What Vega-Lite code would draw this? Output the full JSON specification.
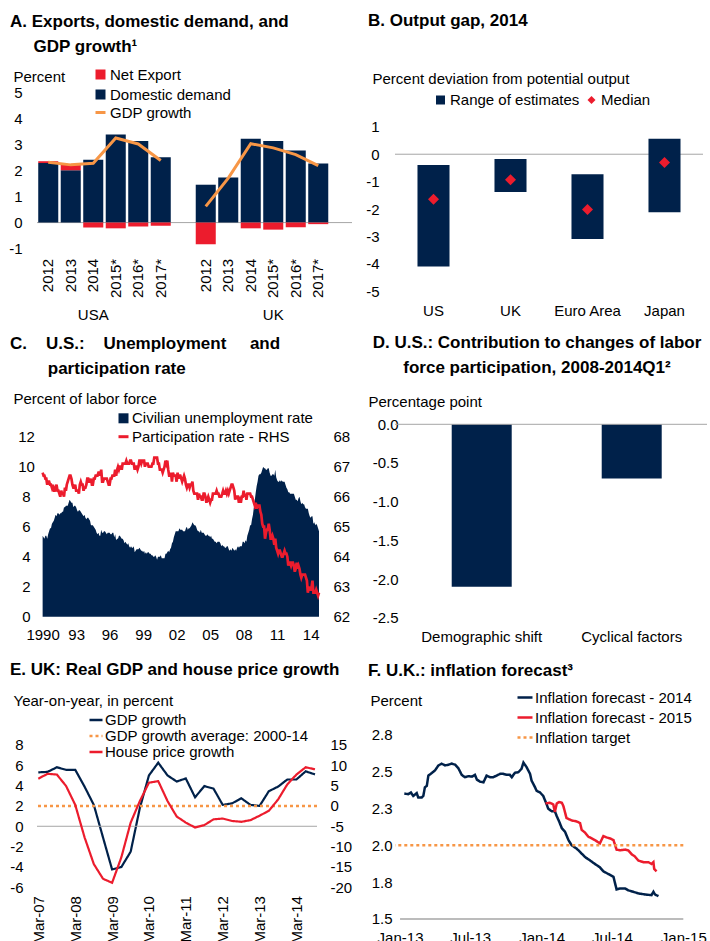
{
"$schema": "https://vega.github.io/schema/vega-lite/v6.json",
"background": "white",
"padding": {"left": 8, "top": 12, "right": 0, "bottom": 0},
"columns": 2,
"bounds": "flush",
"align": "each",
"spacing": {"row": 116.3, "column": 43},
"resolve": {"scale": {"x": "independent", "y": "independent", "color": "independent", "fill": "independent", "stroke": "independent", "strokeDash": "independent"}, "legend": {"color": "independent", "fill": "independent", "stroke": "independent", "strokeDash": "independent"}},
"datasets": {
"a": [
{"cat":"USA|2012","s":"Domestic demand","v":2.28},{"cat":"USA|2012","s":"Net Export","v":0.07},{"cat":"USA|2012","s":"GDP growth","v":2.31,"g":"USA"},
{"cat":"USA|2013","s":"Domestic demand","v":2.0},{"cat":"USA|2013","s":"Net Export","v":0.21},{"cat":"USA|2013","s":"GDP growth","v":2.21,"g":"USA"},
{"cat":"USA|2014","s":"Domestic demand","v":2.41},{"cat":"USA|2014","s":"Net Export","v":-0.19},{"cat":"USA|2014","s":"GDP growth","v":2.27,"g":"USA"},
{"cat":"USA|2015*","s":"Domestic demand","v":3.37},{"cat":"USA|2015*","s":"Net Export","v":-0.22},{"cat":"USA|2015*","s":"GDP growth","v":3.24,"g":"USA"},
{"cat":"USA|2016*","s":"Domestic demand","v":3.12},{"cat":"USA|2016*","s":"Net Export","v":-0.15},{"cat":"USA|2016*","s":"GDP growth","v":3.01,"g":"USA"},
{"cat":"USA|2017*","s":"Domestic demand","v":2.5},{"cat":"USA|2017*","s":"Net Export","v":-0.12},{"cat":"USA|2017*","s":"GDP growth","v":2.38,"g":"USA"},
{"cat":"UK|2012","s":"Domestic demand","v":1.45},{"cat":"UK|2012","s":"Net Export","v":-0.83},{"cat":"UK|2012","s":"GDP growth","v":0.62,"g":"UK"},
{"cat":"UK|2013","s":"Domestic demand","v":1.73},{"cat":"UK|2013","s":"Net Export","v":0},{"cat":"UK|2013","s":"GDP growth","v":1.7,"g":"UK"},
{"cat":"UK|2014","s":"Domestic demand","v":3.21},{"cat":"UK|2014","s":"Net Export","v":-0.22},{"cat":"UK|2014","s":"GDP growth","v":3.02,"g":"UK"},
{"cat":"UK|2015*","s":"Domestic demand","v":3.12},{"cat":"UK|2015*","s":"Net Export","v":-0.27},{"cat":"UK|2015*","s":"GDP growth","v":2.86,"g":"UK"},
{"cat":"UK|2016*","s":"Domestic demand","v":2.76},{"cat":"UK|2016*","s":"Net Export","v":-0.18},{"cat":"UK|2016*","s":"GDP growth","v":2.6,"g":"UK"},
{"cat":"UK|2017*","s":"Domestic demand","v":2.26},{"cat":"UK|2017*","s":"Net Export","v":-0.06},{"cat":"UK|2017*","s":"GDP growth","v":2.18,"g":"UK"}
],
"b": [
{"c":"US","lo":-4.1,"hi":-0.39,"med":-1.64},
{"c":"UK","lo":-1.38,"hi":-0.17,"med":-0.93},
{"c":"Euro Area","lo":-3.09,"hi":-0.73,"med":-2.02},
{"c":"Japan","lo":-2.12,"hi":0.56,"med":-0.3}
],
"c": [
{"d":"1990-01","u":5.4,"p":66.8},{"d":"1990-02","u":5.3,"p":66.7},{"d":"1990-03","u":5.2,"p":66.7},{"d":"1990-04","u":5.4,"p":66.6},{"d":"1990-05","u":5.4,"p":66.6},{"d":"1990-06","u":5.2,"p":66.4},{"d":"1990-07","u":5.5,"p":66.5},{"d":"1990-08","u":5.7,"p":66.5},{"d":"1990-09","u":5.9,"p":66.4},{"d":"1990-10","u":5.9,"p":66.4},{"d":"1990-11","u":6.2,"p":66.3},{"d":"1990-12","u":6.3,"p":66.4},
{"d":"1991-01","u":6.4,"p":66.2},{"d":"1991-02","u":6.6,"p":66.2},{"d":"1991-03","u":6.8,"p":66.3},{"d":"1991-04","u":6.7,"p":66.4},{"d":"1991-05","u":6.9,"p":66.2},{"d":"1991-06","u":6.9,"p":66.2},{"d":"1991-07","u":6.8,"p":66.1},{"d":"1991-08","u":6.9,"p":66.0},{"d":"1991-09","u":6.9,"p":66.2},{"d":"1991-10","u":7.0,"p":66.1},{"d":"1991-11","u":7.0,"p":66.1},{"d":"1991-12","u":7.3,"p":66.0},
{"d":"1992-01","u":7.3,"p":66.3},{"d":"1992-02","u":7.4,"p":66.2},{"d":"1992-03","u":7.4,"p":66.4},{"d":"1992-04","u":7.4,"p":66.5},{"d":"1992-05","u":7.6,"p":66.6},{"d":"1992-06","u":7.8,"p":66.7},{"d":"1992-07","u":7.7,"p":66.7},{"d":"1992-08","u":7.6,"p":66.6},{"d":"1992-09","u":7.6,"p":66.4},{"d":"1992-10","u":7.3,"p":66.3},{"d":"1992-11","u":7.4,"p":66.3},{"d":"1992-12","u":7.4,"p":66.4},
{"d":"1993-01","u":7.3,"p":66.2},{"d":"1993-02","u":7.1,"p":66.2},{"d":"1993-03","u":7.0,"p":66.2},{"d":"1993-04","u":7.1,"p":66.1},{"d":"1993-05","u":7.1,"p":66.4},{"d":"1993-06","u":7.0,"p":66.5},{"d":"1993-07","u":6.9,"p":66.4},{"d":"1993-08","u":6.8,"p":66.4},{"d":"1993-09","u":6.7,"p":66.2},{"d":"1993-10","u":6.8,"p":66.3},{"d":"1993-11","u":6.6,"p":66.3},{"d":"1993-12","u":6.5,"p":66.4},
{"d":"1994-01","u":6.6,"p":66.6},{"d":"1994-02","u":6.6,"p":66.6},{"d":"1994-03","u":6.5,"p":66.5},{"d":"1994-04","u":6.4,"p":66.5},{"d":"1994-05","u":6.1,"p":66.6},{"d":"1994-06","u":6.1,"p":66.4},{"d":"1994-07","u":6.1,"p":66.4},{"d":"1994-08","u":6.0,"p":66.6},{"d":"1994-09","u":5.9,"p":66.6},{"d":"1994-10","u":5.8,"p":66.7},{"d":"1994-11","u":5.6,"p":66.7},{"d":"1994-12","u":5.5,"p":66.7},
{"d":"1995-01","u":5.6,"p":66.8},{"d":"1995-02","u":5.4,"p":66.8},{"d":"1995-03","u":5.4,"p":66.7},{"d":"1995-04","u":5.8,"p":66.9},{"d":"1995-05","u":5.6,"p":66.5},{"d":"1995-06","u":5.6,"p":66.5},{"d":"1995-07","u":5.7,"p":66.6},{"d":"1995-08","u":5.7,"p":66.6},{"d":"1995-09","u":5.6,"p":66.6},{"d":"1995-10","u":5.5,"p":66.6},{"d":"1995-11","u":5.6,"p":66.5},{"d":"1995-12","u":5.6,"p":66.4},
{"d":"1996-01","u":5.6,"p":66.4},{"d":"1996-02","u":5.5,"p":66.6},{"d":"1996-03","u":5.5,"p":66.6},{"d":"1996-04","u":5.6,"p":66.7},{"d":"1996-05","u":5.6,"p":66.7},{"d":"1996-06","u":5.3,"p":66.7},{"d":"1996-07","u":5.5,"p":66.9},{"d":"1996-08","u":5.1,"p":66.7},{"d":"1996-09","u":5.2,"p":66.9},{"d":"1996-10","u":5.2,"p":67.0},{"d":"1996-11","u":5.4,"p":66.9},{"d":"1996-12","u":5.4,"p":67.0},
{"d":"1997-01","u":5.3,"p":67.0},{"d":"1997-02","u":5.2,"p":66.9},{"d":"1997-03","u":5.2,"p":67.1},{"d":"1997-04","u":5.1,"p":67.1},{"d":"1997-05","u":4.9,"p":67.1},{"d":"1997-06","u":5.0,"p":67.1},{"d":"1997-07","u":4.9,"p":67.2},{"d":"1997-08","u":4.8,"p":67.1},{"d":"1997-09","u":4.9,"p":67.1},{"d":"1997-10","u":4.7,"p":67.1},{"d":"1997-11","u":4.6,"p":67.2},{"d":"1997-12","u":4.7,"p":67.2},
{"d":"1998-01","u":4.6,"p":67.1},{"d":"1998-02","u":4.6,"p":67.1},{"d":"1998-03","u":4.7,"p":67.1},{"d":"1998-04","u":4.3,"p":66.9},{"d":"1998-05","u":4.4,"p":67.0},{"d":"1998-06","u":4.5,"p":67.0},{"d":"1998-07","u":4.5,"p":66.9},{"d":"1998-08","u":4.5,"p":67.0},{"d":"1998-09","u":4.6,"p":67.2},{"d":"1998-10","u":4.5,"p":67.2},{"d":"1998-11","u":4.4,"p":67.1},{"d":"1998-12","u":4.4,"p":67.2},
{"d":"1999-01","u":4.3,"p":67.2},{"d":"1999-02","u":4.4,"p":67.2},{"d":"1999-03","u":4.2,"p":67.0},{"d":"1999-04","u":4.3,"p":67.1},{"d":"1999-05","u":4.2,"p":67.1},{"d":"1999-06","u":4.3,"p":67.1},{"d":"1999-07","u":4.3,"p":67.0},{"d":"1999-08","u":4.2,"p":67.0},{"d":"1999-09","u":4.2,"p":67.0},{"d":"1999-10","u":4.1,"p":67.0},{"d":"1999-11","u":4.1,"p":67.1},{"d":"1999-12","u":4.0,"p":67.1},
{"d":"2000-01","u":4.0,"p":67.3},{"d":"2000-02","u":4.1,"p":67.3},{"d":"2000-03","u":4.0,"p":67.3},{"d":"2000-04","u":3.8,"p":67.3},{"d":"2000-05","u":4.0,"p":67.1},{"d":"2000-06","u":4.0,"p":67.1},{"d":"2000-07","u":4.0,"p":66.9},{"d":"2000-08","u":4.1,"p":66.9},{"d":"2000-09","u":3.9,"p":66.9},{"d":"2000-10","u":3.9,"p":66.8},{"d":"2000-11","u":3.9,"p":66.9},{"d":"2000-12","u":3.9,"p":67.0},
{"d":"2001-01","u":4.2,"p":67.2},{"d":"2001-02","u":4.2,"p":67.1},{"d":"2001-03","u":4.3,"p":67.2},{"d":"2001-04","u":4.4,"p":66.9},{"d":"2001-05","u":4.3,"p":66.7},{"d":"2001-06","u":4.5,"p":66.7},{"d":"2001-07","u":4.6,"p":66.8},{"d":"2001-08","u":4.9,"p":66.5},{"d":"2001-09","u":5.0,"p":66.8},{"d":"2001-10","u":5.3,"p":66.7},{"d":"2001-11","u":5.5,"p":66.7},{"d":"2001-12","u":5.7,"p":66.7},
{"d":"2002-01","u":5.7,"p":66.5},{"d":"2002-02","u":5.7,"p":66.8},{"d":"2002-03","u":5.7,"p":66.6},{"d":"2002-04","u":5.9,"p":66.7},{"d":"2002-05","u":5.8,"p":66.7},{"d":"2002-06","u":5.8,"p":66.6},{"d":"2002-07","u":5.8,"p":66.5},{"d":"2002-08","u":5.7,"p":66.6},{"d":"2002-09","u":5.7,"p":66.7},{"d":"2002-10","u":5.7,"p":66.6},{"d":"2002-11","u":5.9,"p":66.4},{"d":"2002-12","u":6.0,"p":66.3},
{"d":"2003-01","u":5.8,"p":66.4},{"d":"2003-02","u":5.9,"p":66.4},{"d":"2003-03","u":5.9,"p":66.3},{"d":"2003-04","u":6.0,"p":66.4},{"d":"2003-05","u":6.1,"p":66.4},{"d":"2003-06","u":6.3,"p":66.5},{"d":"2003-07","u":6.2,"p":66.2},{"d":"2003-08","u":6.1,"p":66.1},{"d":"2003-09","u":6.1,"p":66.1},{"d":"2003-10","u":6.0,"p":66.1},{"d":"2003-11","u":5.8,"p":66.1},{"d":"2003-12","u":5.7,"p":65.9},
{"d":"2004-01","u":5.7,"p":66.1},{"d":"2004-02","u":5.6,"p":66.0},{"d":"2004-03","u":5.8,"p":66.0},{"d":"2004-04","u":5.6,"p":65.9},{"d":"2004-05","u":5.6,"p":65.9},{"d":"2004-06","u":5.6,"p":66.1},{"d":"2004-07","u":5.5,"p":66.1},{"d":"2004-08","u":5.4,"p":66.0},{"d":"2004-09","u":5.4,"p":65.8},{"d":"2004-10","u":5.5,"p":65.9},{"d":"2004-11","u":5.4,"p":66.0},{"d":"2004-12","u":5.4,"p":65.9},
{"d":"2005-01","u":5.3,"p":65.8},{"d":"2005-02","u":5.4,"p":65.9},{"d":"2005-03","u":5.2,"p":65.9},{"d":"2005-04","u":5.2,"p":66.1},{"d":"2005-05","u":5.1,"p":66.1},{"d":"2005-06","u":5.0,"p":66.1},{"d":"2005-07","u":5.0,"p":66.1},{"d":"2005-08","u":4.9,"p":66.2},{"d":"2005-09","u":5.0,"p":66.1},{"d":"2005-10","u":5.0,"p":66.1},{"d":"2005-11","u":5.0,"p":66.0},{"d":"2005-12","u":4.9,"p":66.0},
{"d":"2006-01","u":4.7,"p":66.0},{"d":"2006-02","u":4.8,"p":66.1},{"d":"2006-03","u":4.7,"p":66.2},{"d":"2006-04","u":4.7,"p":66.1},{"d":"2006-05","u":4.6,"p":66.1},{"d":"2006-06","u":4.6,"p":66.2},{"d":"2006-07","u":4.7,"p":66.1},{"d":"2006-08","u":4.7,"p":66.2},{"d":"2006-09","u":4.5,"p":66.1},{"d":"2006-10","u":4.4,"p":66.2},{"d":"2006-11","u":4.5,"p":66.3},{"d":"2006-12","u":4.4,"p":66.4},
{"d":"2007-01","u":4.6,"p":66.4},{"d":"2007-02","u":4.5,"p":66.3},{"d":"2007-03","u":4.4,"p":66.2},{"d":"2007-04","u":4.5,"p":65.9},{"d":"2007-05","u":4.4,"p":66.0},{"d":"2007-06","u":4.6,"p":66.0},{"d":"2007-07","u":4.7,"p":66.0},{"d":"2007-08","u":4.6,"p":65.8},{"d":"2007-09","u":4.7,"p":66.0},{"d":"2007-10","u":4.7,"p":65.8},{"d":"2007-11","u":4.7,"p":66.0},{"d":"2007-12","u":5.0,"p":66.0},
{"d":"2008-01","u":5.0,"p":66.2},{"d":"2008-02","u":4.9,"p":66.0},{"d":"2008-03","u":5.1,"p":66.1},{"d":"2008-04","u":5.0,"p":65.9},{"d":"2008-05","u":5.4,"p":66.1},{"d":"2008-06","u":5.6,"p":66.1},{"d":"2008-07","u":5.8,"p":66.1},{"d":"2008-08","u":6.1,"p":66.1},{"d":"2008-09","u":6.1,"p":66.0},{"d":"2008-10","u":6.5,"p":66.0},{"d":"2008-11","u":6.8,"p":65.9},{"d":"2008-12","u":7.3,"p":65.8},
{"d":"2009-01","u":7.8,"p":65.7},{"d":"2009-02","u":8.3,"p":65.8},{"d":"2009-03","u":8.7,"p":65.6},{"d":"2009-04","u":9.0,"p":65.7},{"d":"2009-05","u":9.4,"p":65.7},{"d":"2009-06","u":9.5,"p":65.7},{"d":"2009-07","u":9.5,"p":65.5},{"d":"2009-08","u":9.6,"p":65.4},{"d":"2009-09","u":9.8,"p":65.1},{"d":"2009-10","u":10.0,"p":65.0},{"d":"2009-11","u":9.9,"p":65.0},{"d":"2009-12","u":9.9,"p":64.6},
{"d":"2010-01","u":9.8,"p":64.8},{"d":"2010-02","u":9.8,"p":64.9},{"d":"2010-03","u":9.9,"p":64.9},{"d":"2010-04","u":9.9,"p":65.1},{"d":"2010-05","u":9.6,"p":64.9},{"d":"2010-06","u":9.4,"p":64.6},{"d":"2010-07","u":9.4,"p":64.6},{"d":"2010-08","u":9.5,"p":64.7},{"d":"2010-09","u":9.5,"p":64.6},{"d":"2010-10","u":9.4,"p":64.4},{"d":"2010-11","u":9.8,"p":64.6},{"d":"2010-12","u":9.3,"p":64.3},
{"d":"2011-01","u":9.1,"p":64.2},{"d":"2011-02","u":9.0,"p":64.1},{"d":"2011-03","u":9.0,"p":64.2},{"d":"2011-04","u":9.1,"p":64.2},{"d":"2011-05","u":9.0,"p":64.1},{"d":"2011-06","u":9.1,"p":64.0},{"d":"2011-07","u":9.0,"p":64.0},{"d":"2011-08","u":9.0,"p":64.1},{"d":"2011-09","u":9.0,"p":64.2},{"d":"2011-10","u":8.8,"p":64.1},{"d":"2011-11","u":8.6,"p":64.1},{"d":"2011-12","u":8.5,"p":64.0},
{"d":"2012-01","u":8.3,"p":63.7},{"d":"2012-02","u":8.3,"p":63.8},{"d":"2012-03","u":8.2,"p":63.8},{"d":"2012-04","u":8.2,"p":63.7},{"d":"2012-05","u":8.2,"p":63.8},{"d":"2012-06","u":8.2,"p":63.8},{"d":"2012-07","u":8.2,"p":63.7},{"d":"2012-08","u":8.0,"p":63.5},{"d":"2012-09","u":7.8,"p":63.6},{"d":"2012-10","u":7.8,"p":63.8},{"d":"2012-11","u":7.7,"p":63.6},{"d":"2012-12","u":7.9,"p":63.7},
{"d":"2013-01","u":8.0,"p":63.6},{"d":"2013-02","u":7.7,"p":63.4},{"d":"2013-03","u":7.5,"p":63.3},{"d":"2013-04","u":7.6,"p":63.4},{"d":"2013-05","u":7.5,"p":63.4},{"d":"2013-06","u":7.5,"p":63.4},{"d":"2013-07","u":7.3,"p":63.4},{"d":"2013-08","u":7.2,"p":63.3},{"d":"2013-09","u":7.2,"p":63.2},{"d":"2013-10","u":7.2,"p":62.8},{"d":"2013-11","u":6.9,"p":63.0},{"d":"2013-12","u":6.7,"p":62.9},
{"d":"2014-01","u":6.6,"p":62.9},{"d":"2014-02","u":6.7,"p":63.0},{"d":"2014-03","u":6.7,"p":63.2},{"d":"2014-04","u":6.2,"p":62.8},{"d":"2014-05","u":6.3,"p":62.8},{"d":"2014-06","u":6.1,"p":62.8},{"d":"2014-07","u":6.2,"p":62.9},{"d":"2014-08","u":6.1,"p":62.8},{"d":"2014-09","u":5.9,"p":62.7},{"d":"2014-10","u":5.7,"p":62.8}
],
"d": [{"c":"Demographic shift","v":-2.1},{"c":"Cyclical factors","v":-0.7}],
"e": [
{"d":"2007-03","g":5.3,"h":6.7},{"d":"2007-06","g":5.35,"h":7.9},{"d":"2007-09","g":5.8,"h":7.7},{"d":"2007-12","g":5.55,"h":4.9},
{"d":"2008-03","g":5.55,"h":0.25},{"d":"2008-06","g":3.9,"h":-7.7},{"d":"2008-09","g":2.1,"h":-14.3},{"d":"2008-12","g":-1.1,"h":-17.9},
{"d":"2009-03","g":-4.25,"h":-18.9},{"d":"2009-06","g":-4.0,"h":-12.6},{"d":"2009-09","g":-2.5,"h":-4.1},{"d":"2009-12","g":1.8,"h":1.2},
{"d":"2010-03","g":5.0,"h":5.7},{"d":"2010-06","g":6.25,"h":6.1},{"d":"2010-09","g":5.0,"h":1.2},{"d":"2010-12","g":4.4,"h":-2.6},
{"d":"2011-03","g":4.7,"h":-4.1},{"d":"2011-06","g":2.85,"h":-5.3},{"d":"2011-09","g":3.95,"h":-4.7},{"d":"2011-12","g":3.7,"h":-3.3},
{"d":"2012-03","g":2.1,"h":-3.1},{"d":"2012-06","g":2.25,"h":-3.7},{"d":"2012-09","g":2.75,"h":-3.9},{"d":"2012-12","g":2.1,"h":-3.5},
{"d":"2013-03","g":2.0,"h":-2.4},{"d":"2013-06","g":3.45,"h":-1.2},{"d":"2013-09","g":3.9,"h":1.6},{"d":"2013-12","g":4.6,"h":5.3},
{"d":"2014-03","g":4.6,"h":7.7},{"d":"2014-06","g":5.4,"h":9.5},{"d":"2014-09","g":5.1,"h":9.0}
],
"f14": [
{"d":"2013-01-12","v":2.35},{"d":"2013-01-22","v":2.346},{"d":"2013-01-29","v":2.357},{"d":"2013-02-04","v":2.334},{"d":"2013-02-13","v":2.353},{"d":"2013-02-17","v":2.323},{"d":"2013-02-26","v":2.323},{"d":"2013-03-02","v":2.334},{"d":"2013-03-06","v":2.392},{"d":"2013-03-11","v":2.403},{"d":"2013-03-15","v":2.472},{"d":"2013-03-24","v":2.49},{"d":"2013-04-01","v":2.507},{"d":"2013-04-10","v":2.541},{"d":"2013-04-18","v":2.553},{"d":"2013-04-27","v":2.541},{"d":"2013-05-06","v":2.546},{"d":"2013-05-14","v":2.553},{"d":"2013-05-23","v":2.546},{"d":"2013-05-31","v":2.523},{"d":"2013-06-09","v":2.477},{"d":"2013-06-17","v":2.461},{"d":"2013-06-26","v":2.468},{"d":"2013-07-05","v":2.465},{"d":"2013-07-13","v":2.477},{"d":"2013-07-18","v":2.445},{"d":"2013-07-26","v":2.431},{"d":"2013-08-04","v":2.426},{"d":"2013-08-12","v":2.472},{"d":"2013-08-21","v":2.461},{"d":"2013-08-29","v":2.461},{"d":"2013-09-07","v":2.472},{"d":"2013-09-16","v":2.484},{"d":"2013-09-24","v":2.484},{"d":"2013-10-03","v":2.477},{"d":"2013-10-11","v":2.477},{"d":"2013-10-16","v":2.461},{"d":"2013-10-24","v":2.491},{"d":"2013-11-02","v":2.495},{"d":"2013-11-10","v":2.518},{"d":"2013-11-15","v":2.56},{"d":"2013-11-23","v":2.53},{"d":"2013-12-02","v":2.484},{"d":"2013-12-06","v":2.438},{"d":"2013-12-15","v":2.392},{"d":"2013-12-19","v":2.369},{"d":"2013-12-28","v":2.357},{"d":"2014-01-05","v":2.334},{"d":"2014-01-14","v":2.276},{"d":"2014-01-18","v":2.247},{"d":"2014-01-27","v":2.23},{"d":"2014-02-04","v":2.23},{"d":"2014-02-09","v":2.196},{"d":"2014-02-15","v":2.161},{"d":"2014-02-22","v":2.115},{"d":"2014-03-02","v":2.092},{"d":"2014-03-11","v":2.035},{"d":"2014-03-19","v":2.0},{"d":"2014-04-01","v":1.977},{"d":"2014-04-10","v":1.954},{"d":"2014-04-23","v":1.919},{"d":"2014-05-06","v":1.896},{"d":"2014-05-18","v":1.873},{"d":"2014-05-31","v":1.85},{"d":"2014-06-09","v":1.823},{"d":"2014-06-22","v":1.804},{"d":"2014-07-05","v":1.786},{"d":"2014-07-13","v":1.7},{"d":"2014-07-22","v":1.707},{"d":"2014-08-04","v":1.707},{"d":"2014-08-12","v":1.694},{"d":"2014-08-25","v":1.684},{"d":"2014-09-07","v":1.673},{"d":"2014-09-24","v":1.666},{"d":"2014-10-11","v":1.661},{"d":"2014-10-16","v":1.684},{"d":"2014-10-20","v":1.666},{"d":"2014-10-29","v":1.654}
],
"f15": [
{"d":"2014-01-11","v":2.283},{"d":"2014-01-22","v":2.288},{"d":"2014-01-31","v":2.276},{"d":"2014-02-04","v":2.226},{"d":"2014-02-09","v":2.283},{"d":"2014-02-15","v":2.293},{"d":"2014-02-22","v":2.288},{"d":"2014-02-26","v":2.265},{"d":"2014-03-06","v":2.184},{"d":"2014-03-19","v":2.168},{"d":"2014-04-01","v":2.161},{"d":"2014-04-10","v":2.15},{"d":"2014-04-14","v":2.104},{"d":"2014-04-23","v":2.085},{"d":"2014-05-01","v":2.058},{"d":"2014-05-10","v":2.046},{"d":"2014-05-18","v":2.035},{"d":"2014-05-31","v":2.012},{"d":"2014-06-09","v":2.062},{"d":"2014-06-17","v":2.053},{"d":"2014-06-26","v":2.046},{"d":"2014-07-05","v":2.035},{"d":"2014-07-13","v":1.97},{"d":"2014-07-22","v":1.965},{"d":"2014-08-04","v":1.97},{"d":"2014-08-12","v":1.965},{"d":"2014-08-21","v":1.938},{"d":"2014-08-29","v":1.924},{"d":"2014-09-07","v":1.896},{"d":"2014-09-20","v":1.885},{"d":"2014-10-03","v":1.885},{"d":"2014-10-11","v":1.873},{"d":"2014-10-16","v":1.885},{"d":"2014-10-18","v":1.839},{"d":"2014-10-24","v":1.823}
]
},
"concat": [
{
"width": 315, "height": 156.7,
"title": {"text": ["A. Exports, domestic demand, and", "\u200b\u00a0\u00a0\u00a0\u00a0\u00a0GDP growth\u00b9"], "dx": -27, "dy": -7.5},
"layer": [
{"data": {"values": [{}]}, "mark": {"type": "rule", "color": "#A6A6A6", "strokeWidth": 1}, "encoding": {"y": {"datum": 0, "type": "quantitative",
  "axis": {"title": "Percent", "titleAngle": 0, "titleAlign": "left", "titleBaseline": "alphabetic", "titleX": -24, "titleY": -11, "values": [-1,0,1,2,3,4,5], "labelPadding": 15, "labelAlign": "right", "labelOverlap": false, "labelExpr": "(datum.value < 0 ? '-' : '') + abs(datum.value)"}}}},
{"data": {"name": "a"}, "transform": [{"filter": "datum.s !== 'GDP growth'"}],
 "mark": {"type": "bar"},
 "encoding": {
  "x": {"field": "cat", "type": "nominal", "scale": {"domain": ["USA|2012","USA|2013","USA|2014","USA|2015*","USA|2016*","USA|2017*","gap1","UK|2012","UK|2013","UK|2014","UK|2015*","UK|2016*","UK|2017*","gap2"], "paddingInner": 0.11, "paddingOuter": 0.055},
        "axis": {"title": null, "labelAngle": 270, "labelPadding": 9.6, "labelOverlap": false, "labelExpr": "indexof(datum.value, '|') >= 0 ? split(datum.value, '|')[1] : ''"}},
  "y": {"field": "v", "type": "quantitative", "stack": "zero", "scale": {"domain": [-1, 5], "nice": false, "zero": false},
        "axis": {"title": "Percent", "titleAngle": 0, "titleAlign": "left", "titleBaseline": "alphabetic", "titleX": -24, "titleY": -11, "values": [-1,0,1,2,3,4,5], "labelPadding": 15, "labelAlign": "right", "labelOverlap": false, "labelExpr": "(datum.value < 0 ? '-' : '') + abs(datum.value)"}},
  "fill": {"field": "s", "type": "nominal", "scale": {"domain": ["Net Export","Domestic demand"], "range": ["#EC1C2D","#00214A"]},
        "legend": {"orient": "none", "legendX": 56, "legendY": -25, "title": null, "direction": "vertical", "symbolSize": 100, "symbolType": "square", "labelOffset": 2, "rowPadding": 4, "symbolStrokeWidth": 0}},
  "order": {"field": "s", "sort": "ascending"}
 }},
{"data": {"name": "a"}, "transform": [{"filter": "datum.s === 'GDP growth'"}],
 "mark": {"type": "line", "strokeWidth": 3},
 "encoding": {"x": {"field": "cat", "type": "nominal"}, "y": {"field": "v", "type": "quantitative",
   "axis": {"title": "Percent", "titleAngle": 0, "titleAlign": "left", "titleBaseline": "alphabetic", "titleX": -24, "titleY": -11, "values": [-1,0,1,2,3,4,5], "labelPadding": 15, "labelAlign": "right", "labelOverlap": false, "labelExpr": "(datum.value < 0 ? '-' : '') + abs(datum.value)"}},
  "stroke": {"datum": "GDP growth", "type": "nominal", "scale": {"domain": ["GDP growth"], "range": ["#F79646"]},
     "legend": {"orient": "none", "legendX": 56, "legendY": 13, "title": null, "symbolSize": 100, "symbolType": "stroke", "symbolStrokeWidth": 3, "labelOffset": 2}},
  "detail": {"field": "g", "type": "nominal"}}},
{"data": {"values": [{"cat": "USA|2014", "lab": "USA"}, {"cat": "UK|2015*", "lab": "UK"}]},
 "mark": {"type": "text", "fontSize": 15, "font": "Liberation Sans", "baseline": "middle", "color": "#000"},
 "encoding": {"x": {"field": "cat", "type": "nominal"}, "y": {"datum": -3.53, "type": "quantitative",
   "axis": {"title": "Percent", "titleAngle": 0, "titleAlign": "left", "titleBaseline": "alphabetic", "titleX": -24, "titleY": -11, "values": [-1,0,1,2,3,4,5], "labelPadding": 15, "labelAlign": "right", "labelOverlap": false, "labelExpr": "(datum.value < 0 ? '-' : '') + abs(datum.value)"}}, "text": {"field": "lab"}}}
]
},
{
"width": 308, "height": 216,
"title": {"text": "B. Output gap, 2014", "dx": -27, "dy": -37},
"layer": [
{"data": {"values": [{}]}, "mark": {"type": "rule", "color": "#A6A6A6", "strokeWidth": 1}, "encoding": {"y": {"datum": 0, "type": "quantitative",
  "axis": {"title": "Percent deviation from potential output", "titleAngle": 0, "titleAlign": "left", "titleBaseline": "alphabetic", "titleX": -23, "titleY": -9, "values": [-5,-4,-3,-2,-1,0,1], "labelPadding": 16, "labelAlign": "right", "labelOverlap": false, "labelExpr": "(datum.value < 0 ? '-' : '') + abs(datum.value)"}}}},
{"data": {"name": "b"}, "mark": {"type": "bar"},
 "encoding": {
  "x": {"field": "c", "type": "nominal", "sort": null, "scale": {"paddingInner": 0.584, "paddingOuter": 0.292}, "axis": {"title": null, "labelAngle": 0, "labelPadding": -4.5, "labelOverlap": false}},
  "y": {"field": "lo", "type": "quantitative", "scale": {"domain": [-5.61, 2.27], "nice": false, "zero": false},
        "axis": {"title": "Percent deviation from potential output", "titleAngle": 0, "titleAlign": "left", "titleBaseline": "alphabetic", "titleX": -23, "titleY": -9, "values": [-5,-4,-3,-2,-1,0,1], "labelPadding": 16, "labelAlign": "right", "labelOverlap": false, "labelExpr": "(datum.value < 0 ? '-' : '') + abs(datum.value)"}},
  "y2": {"field": "hi"},
  "fill": {"datum": "Range of estimates", "type": "nominal", "scale": {"domain": ["Range of estimates"], "range": ["#00214A"]},
        "legend": {"orient": "none", "legendX": 38, "legendY": 0.5, "title": null, "symbolSize": 81, "symbolType": "square", "labelOffset": 2, "symbolStrokeWidth": 0}}
 }},
{"data": {"name": "b"}, "mark": {"type": "point", "shape": "diamond", "filled": true, "size": 121, "opacity": 1},
 "encoding": {"x": {"field": "c", "type": "nominal", "sort": null}, "y": {"field": "med", "type": "quantitative",
   "axis": {"title": "Percent deviation from potential output", "titleAngle": 0, "titleAlign": "left", "titleBaseline": "alphabetic", "titleX": -23, "titleY": -9, "values": [-5,-4,-3,-2,-1,0,1], "labelPadding": 16, "labelAlign": "right", "labelOverlap": false, "labelExpr": "(datum.value < 0 ? '-' : '') + abs(datum.value)"}},
  "color": {"datum": "Median", "type": "nominal", "scale": {"domain": ["Median"], "range": ["#EC1C2D"]},
     "legend": {"orient": "none", "legendX": 189, "legendY": 0.5, "title": null, "symbolSize": 64, "symbolType": "diamond", "labelOffset": 2, "symbolStrokeWidth": 0}}}}
]
},
{
"width": 282, "height": 192.4,
"title": {"text": ["C.\u00a0\u00a0\u00a0\u00a0U.S.:\u00a0\u00a0\u00a0\u00a0Unemployment\u00a0\u00a0\u00a0\u00a0\u00a0and", "\u200b\u00a0\u00a0\u00a0\u00a0\u00a0\u00a0\u00a0\u00a0participation rate"], "dx": -27, "dy": -9.3},
"data": {"name": "c"},
"layer": [
{"mark": {"type": "area"},
 "encoding": {
  "x": {"field": "d", "type": "temporal", "scale": {"type": "utc", "domain": [{"year": 1989, "month": 7, "date": 1, "utc": true}, {"year": 2014, "month": 10, "date": 1, "utc": true}]},
        "axis": {"title": null, "labelAngle": 0, "labelAlign": "center", "labelPadding": 10.4, "labelOverlap": false, "values": [{"year":1990,"month":1,"date":1,"utc":true},{"year":1993,"month":1,"date":1,"utc":true},{"year":1996,"month":1,"date":1,"utc":true},{"year":1999,"month":1,"date":1,"utc":true},{"year":2002,"month":1,"date":1,"utc":true},{"year":2005,"month":1,"date":1,"utc":true},{"year":2008,"month":1,"date":1,"utc":true},{"year":2011,"month":1,"date":1,"utc":true},{"year":2014,"month":1,"date":1,"utc":true}],
                 "labelExpr": "utcFormat(datum.value, '%Y') === '1990' ? '1990' : utcFormat(datum.value, '%y')"}},
  "y": {"field": "u", "type": "quantitative", "scale": {"domain": [0, 12.827], "nice": false, "zero": false},
        "axis": {"title": "Percent of labor force", "titleAngle": 0, "titleAlign": "left", "titleBaseline": "alphabetic", "titleX": -24, "titleY": -21.3, "values": [0,2,4,6,8,10,12], "labelPadding": 11, "labelAlign": "center", "labelOverlap": false}},
  "fill": {"datum": "Civilian unemployment rate", "type": "nominal", "scale": {"domain": ["Civilian unemployment rate"], "range": ["#00214A"]},
        "legend": {"orient": "none", "legendX": 79, "legendY": -13.5, "title": null, "symbolSize": 100, "symbolType": "square", "labelOffset": 1, "symbolStrokeWidth": 0}}
 }},
{"mark": {"type": "line", "strokeWidth": 2.7},
 "encoding": {
  "x": {"field": "d", "type": "temporal", "axis": {"title": null, "labelAngle": 0, "labelAlign": "center", "labelPadding": 10.4, "labelOverlap": false, "values": [{"year":1990,"month":1,"date":1,"utc":true},{"year":1993,"month":1,"date":1,"utc":true},{"year":1996,"month":1,"date":1,"utc":true},{"year":1999,"month":1,"date":1,"utc":true},{"year":2002,"month":1,"date":1,"utc":true},{"year":2005,"month":1,"date":1,"utc":true},{"year":2008,"month":1,"date":1,"utc":true},{"year":2011,"month":1,"date":1,"utc":true},{"year":2014,"month":1,"date":1,"utc":true}],
                 "labelExpr": "utcFormat(datum.value, '%Y') === '1990' ? '1990' : utcFormat(datum.value, '%y')"}},
  "y": {"field": "p", "type": "quantitative", "scale": {"domain": [62, 68.413], "nice": false, "zero": false},
        "axis": {"title": null, "orient": "right", "values": [62,63,64,65,66,67,68], "labelPadding": 14, "labelAlign": "left", "labelOverlap": false}},
  "stroke": {"datum": "Participation rate - RHS", "type": "nominal", "scale": {"domain": ["Participation rate - RHS"], "range": ["#EC1C2D"]},
        "legend": {"orient": "none", "legendX": 79, "legendY": 4.9, "title": null, "symbolSize": 100, "symbolType": "stroke", "symbolStrokeWidth": 3, "labelOffset": 1}}
 }}
],
"resolve": {"scale": {"y": "independent"}}
},
{
"width": 312, "height": 193.4,
"title": {"text": ["D. U.S.: Contribution to changes of labor", "force participation, 2008-2014Q1\u00b2"], "anchor": "middle", "align": "center", "dx": -14, "dy": -14},
"layer": [
{"data": {"name": "d"}, "mark": {"type": "bar", "color": "#00214A"},
 "encoding": {
  "x": {"field": "c", "type": "nominal", "sort": null, "scale": {"paddingInner": 0.6, "paddingOuter": 0.34, "align": 0.556}, "axis": {"title": null, "labelAngle": 0, "labelPadding": 12.3, "labelOverlap": false}},
  "y": {"field": "v", "type": "quantitative", "scale": {"domain": [-2.5, 0], "nice": false, "zero": false},
        "axis": {"title": "Percentage point", "titleAngle": 0, "titleAlign": "left", "titleBaseline": "alphabetic", "titleX": -27, "titleY": -17.6, "values": [-2.5,-2,-1.5,-1,-0.5,0], "labelPadding": -3, "labelAlign": "right", "labelOverlap": false, "labelExpr": "(datum.value < 0 ? '-' : '') + format(abs(datum.value), '.1f')"}}
 }},
{"data": {"values": [{}]}, "mark": {"type": "rule", "color": "#A6A6A6", "strokeWidth": 1}, "encoding": {"y": {"datum": 0, "type": "quantitative", "axis": {"title": "Percentage point", "titleAngle": 0, "titleAlign": "left", "titleBaseline": "alphabetic", "titleX": -27, "titleY": -17.6, "values": [-2.5,-2,-1.5,-1,-0.5,0], "labelPadding": -3, "labelAlign": "right", "labelOverlap": false, "labelExpr": "(datum.value < 0 ? '-' : '') + format(abs(datum.value), '.1f')"}}}}
]
},
{
"width": 280, "height": 152.7,
"title": {"text": "E. UK: Real GDP and house price growth", "dx": -27, "dy": -10.7},
"layer": [
{"layer": [
 {"data": {"name": "e"}, "mark": {"type": "line", "strokeWidth": 2.2},
  "encoding": {
   "x": {"field": "d", "type": "temporal", "scale": {"type": "utc", "domain": [{"year": 2007, "month": 2, "date": 16, "utc": true}, {"year": 2014, "month": 9, "date": 21, "utc": true}]},
         "axis": {"title": null, "format": "%b-%y", "labelAngle": 270, "labelAlign": "right", "labelBaseline": "middle", "labelPadding": 8.3, "labelOverlap": false, "values": [{"year":2007,"month":3,"date":1,"utc":true},{"year":2008,"month":3,"date":1,"utc":true},{"year":2009,"month":3,"date":1,"utc":true},{"year":2010,"month":3,"date":1,"utc":true},{"year":2011,"month":3,"date":1,"utc":true},{"year":2012,"month":3,"date":1,"utc":true},{"year":2013,"month":3,"date":1,"utc":true},{"year":2014,"month":3,"date":1,"utc":true}]}},
   "y": {"field": "g", "type": "quantitative", "scale": {"domain": [-6, 9.013], "nice": false, "zero": false},
         "axis": {"title": "Year-on-year, in percent", "titleAngle": 0, "titleAlign": "left", "titleBaseline": "alphabetic", "titleX": -24, "titleY": -29, "values": [-6,-4,-2,0,2,4,6,8], "labelPadding": 14, "labelAlign": "right", "labelOverlap": false, "labelExpr": "(datum.value < 0 ? '-' : '') + abs(datum.value)"}},
   "stroke": {"datum": "GDP growth", "type": "nominal", "scale": {"domain": ["GDP growth", "GDP growth average: 2000-14", "House price growth"], "range": ["#00214A", "#F79646", "#EC1C2D"]},
         "legend": {"orient": "none", "legendX": 51, "legendY": -22.5, "title": null, "direction": "vertical", "symbolSize": 169, "symbolType": "stroke", "symbolStrokeWidth": 2.5, "labelOffset": 1, "rowPadding": 0}},
   "strokeDash": {"datum": "GDP growth", "type": "nominal", "scale": {"domain": ["GDP growth", "GDP growth average: 2000-14", "House price growth"], "range": [[1, 0], [3, 3], [1, 0]]},
         "legend": {"orient": "none", "legendX": 51, "legendY": -22.5, "title": null, "direction": "vertical", "symbolSize": 169, "symbolType": "stroke", "symbolStrokeWidth": 2.5, "labelOffset": 1, "rowPadding": 0}}
  }},
 {"data": {"values": [{}]}, "mark": {"type": "rule", "color": "#A6A6A6", "strokeWidth": 1}, "encoding": {"y": {"datum": 0, "type": "quantitative",
   "axis": {"title": "Year-on-year, in percent", "titleAngle": 0, "titleAlign": "left", "titleBaseline": "alphabetic", "titleX": -24, "titleY": -29, "values": [-6,-4,-2,0,2,4,6,8], "labelPadding": 14, "labelAlign": "right", "labelOverlap": false, "labelExpr": "(datum.value < 0 ? '-' : '') + abs(datum.value)"}}}},
 {"data": {"values": [{}]}, "mark": {"type": "rule", "strokeWidth": 2.5}, "encoding": {"y": {"datum": 2, "type": "quantitative",
   "axis": {"title": "Year-on-year, in percent", "titleAngle": 0, "titleAlign": "left", "titleBaseline": "alphabetic", "titleX": -24, "titleY": -29, "values": [-6,-4,-2,0,2,4,6,8], "labelPadding": 14, "labelAlign": "right", "labelOverlap": false, "labelExpr": "(datum.value < 0 ? '-' : '') + abs(datum.value)"}},
   "stroke": {"datum": "GDP growth average: 2000-14", "type": "nominal"}, "strokeDash": {"datum": "GDP growth average: 2000-14", "type": "nominal"}}}
]},
{"data": {"name": "e"}, "mark": {"type": "line", "strokeWidth": 2.2},
 "encoding": {
  "x": {"field": "d", "type": "temporal",
        "axis": {"title": null, "format": "%b-%y", "labelAngle": 270, "labelAlign": "right", "labelBaseline": "middle", "labelPadding": 8.3, "labelOverlap": false, "values": [{"year":2007,"month":3,"date":1,"utc":true},{"year":2008,"month":3,"date":1,"utc":true},{"year":2009,"month":3,"date":1,"utc":true},{"year":2010,"month":3,"date":1,"utc":true},{"year":2011,"month":3,"date":1,"utc":true},{"year":2012,"month":3,"date":1,"utc":true},{"year":2013,"month":3,"date":1,"utc":true},{"year":2014,"month":3,"date":1,"utc":true}]}},
  "y": {"field": "h", "type": "quantitative", "scale": {"domain": [-20, 17.53], "nice": false, "zero": false},
        "axis": {"title": null, "orient": "right", "values": [-20,-15,-10,-5,0,5,10,15], "labelPadding": 13, "labelAlign": "left", "labelOverlap": false, "labelExpr": "(datum.value < 0 ? '-' : '') + abs(datum.value)"}},
  "stroke": {"datum": "House price growth", "type": "nominal"},
  "strokeDash": {"datum": "House price growth", "type": "nominal"}
 }}
],
"resolve": {"scale": {"y": "independent"}}
},
{
"width": 288.3, "height": 184.3,
"title": {"text": "F. U.K.: inflation forecast\u00b3", "dx": -27, "dy": -4.9},
"layer": [
{"data": {"name": "f14"}, "mark": {"type": "line", "strokeWidth": 2.5},
 "encoding": {
  "x": {"field": "d", "type": "temporal", "scale": {"type": "utc", "domain": [{"year": 2012, "month": 12, "date": 19, "utc": true}, {"year": 2015, "month": 1, "date": 1, "utc": true}]},
        "axis": {"title": null, "format": "%b-%y", "labelAngle": 0, "labelAlign": "center", "labelPadding": 12, "labelOverlap": false, "values": [{"year":2013,"month":1,"date":1,"utc":true},{"year":2013,"month":7,"date":1,"utc":true},{"year":2014,"month":1,"date":1,"utc":true},{"year":2014,"month":7,"date":1,"utc":true},{"year":2015,"month":1,"date":1,"utc":true}]}},
  "y": {"field": "v", "type": "quantitative", "scale": {"domain": [1.5, 2.75], "nice": false, "zero": false},
        "axis": {"title": "Percent", "titleAngle": 0, "titleAlign": "left", "titleBaseline": "alphabetic", "titleX": -25, "titleY": -29, "values": [1.5, 1.75, 2, 2.25, 2.5, 2.75], "labelPadding": 3, "labelAlign": "right", "labelOverlap": false, "format": ".1f"}},
  "stroke": {"datum": "Inflation forecast - 2014", "type": "nominal", "scale": {"domain": ["Inflation forecast - 2014", "Inflation forecast - 2015", "Inflation target"], "range": ["#00214A", "#EC1C2D", "#F79646"]},
        "legend": {"orient": "none", "legendX": 121, "legendY": -46, "title": null, "direction": "vertical", "symbolSize": 225, "symbolType": "stroke", "symbolStrokeWidth": 2.5, "labelOffset": 1, "rowPadding": 3}},
  "strokeDash": {"datum": "Inflation forecast - 2014", "type": "nominal", "scale": {"domain": ["Inflation forecast - 2014", "Inflation forecast - 2015", "Inflation target"], "range": [[1, 0], [1, 0], [3, 3]]},
        "legend": {"orient": "none", "legendX": 121, "legendY": -46, "title": null, "direction": "vertical", "symbolSize": 225, "symbolType": "stroke", "symbolStrokeWidth": 2.5, "labelOffset": 1, "rowPadding": 3}}
 }},
{"data": {"name": "f15"}, "mark": {"type": "line", "strokeWidth": 2.5},
 "encoding": {
  "x": {"field": "d", "type": "temporal", "axis": {"title": null, "format": "%b-%y", "labelAngle": 0, "labelAlign": "center", "labelPadding": 12, "labelOverlap": false, "values": [{"year":2013,"month":1,"date":1,"utc":true},{"year":2013,"month":7,"date":1,"utc":true},{"year":2014,"month":1,"date":1,"utc":true},{"year":2014,"month":7,"date":1,"utc":true},{"year":2015,"month":1,"date":1,"utc":true}]}},
  "y": {"field": "v", "type": "quantitative", "axis": {"title": "Percent", "titleAngle": 0, "titleAlign": "left", "titleBaseline": "alphabetic", "titleX": -25, "titleY": -29, "values": [1.5, 1.75, 2, 2.25, 2.5, 2.75], "labelPadding": 3, "labelAlign": "right", "labelOverlap": false, "format": ".1f"}},
  "stroke": {"datum": "Inflation forecast - 2015", "type": "nominal"}, "strokeDash": {"datum": "Inflation forecast - 2015", "type": "nominal"}}},
{"data": {"values": [{}]}, "mark": {"type": "rule", "strokeWidth": 2.5}, "encoding": {
  "y": {"datum": 2, "type": "quantitative", "axis": {"title": "Percent", "titleAngle": 0, "titleAlign": "left", "titleBaseline": "alphabetic", "titleX": -25, "titleY": -29, "values": [1.5, 1.75, 2, 2.25, 2.5, 2.75], "labelPadding": 3, "labelAlign": "right", "labelOverlap": false, "format": ".1f"}},
  "stroke": {"datum": "Inflation target", "type": "nominal"}, "strokeDash": {"datum": "Inflation target", "type": "nominal"}}},
{"data": {"values": [{}]}, "mark": {"type": "rule", "color": "#A6A6A6", "strokeWidth": 1.5},
 "encoding": {
  "x": {"datum": {"year": 2013, "month": 1, "date": 1, "utc": true}, "type": "temporal", "axis": {"title": null, "format": "%b-%y", "labelAngle": 0, "labelAlign": "center", "labelPadding": 12, "labelOverlap": false, "values": [{"year":2013,"month":1,"date":1,"utc":true},{"year":2013,"month":7,"date":1,"utc":true},{"year":2014,"month":1,"date":1,"utc":true},{"year":2014,"month":7,"date":1,"utc":true},{"year":2015,"month":1,"date":1,"utc":true}]}},
  "x2": {"datum": {"year": 2015, "month": 1, "date": 1, "utc": true}},
  "y": {"datum": 1.5, "type": "quantitative", "axis": {"title": "Percent", "titleAngle": 0, "titleAlign": "left", "titleBaseline": "alphabetic", "titleX": -25, "titleY": -29, "values": [1.5, 1.75, 2, 2.25, 2.5, 2.75], "labelPadding": 3, "labelAlign": "right", "labelOverlap": false, "format": ".1f"}}}}
]
}
],
"config": {
 "font": "Liberation Sans",
 "view": {"stroke": null},
 "axis": {"labelFont": "Liberation Sans", "labelFontSize": 15, "labelColor": "#000", "ticks": false, "tickSize": 0, "domain": false, "grid": false, "titleFont": "Liberation Sans", "titleFontSize": 15, "titleFontWeight": "normal", "titleColor": "#000", "labelOverlap": false, "labelFlush": false, "labelBound": false, "labelLimit": 300},
 "axisQuantitative": {"labelOverlap": false},
 "axisTemporal": {"labelOverlap": false},
 "legend": {"labelFont": "Liberation Sans", "labelFontSize": 15, "labelColor": "#000", "padding": 0, "labelLimit": 400},
 "title": {"font": "Liberation Sans", "fontSize": 17, "fontWeight": "bold", "color": "#000", "anchor": "start", "frame": "group", "offset": 0, "lineHeight": 24.5, "baseline": "alphabetic"}
}
}
